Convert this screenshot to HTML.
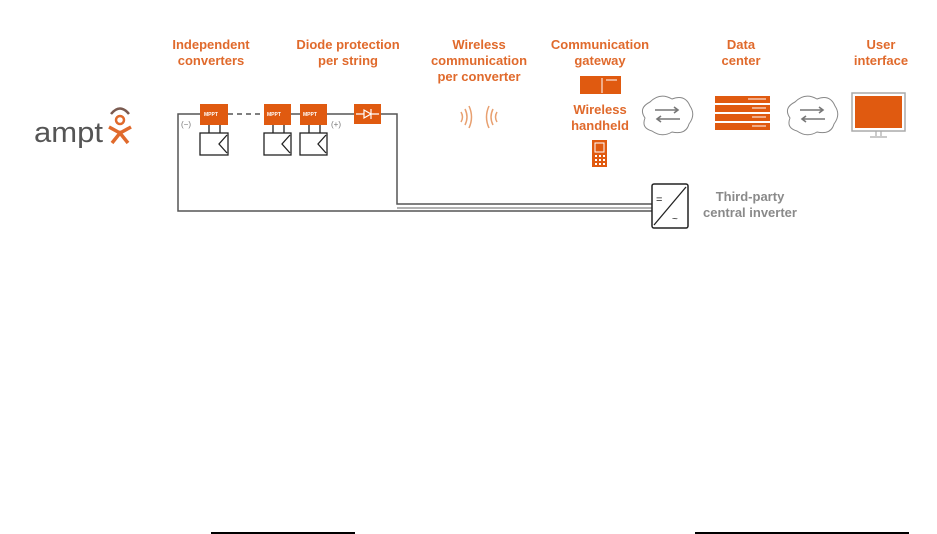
<!DOCTYPE html>
<html><head><style>
html,body{margin:0;padding:0;background:#fff;}
svg{display:block}
.h{font-family:"Liberation Sans",sans-serif;font-weight:bold;font-size:13px;fill:#e06a2c;text-anchor:middle}
.g{font-family:"Liberation Sans",sans-serif;font-weight:bold;font-size:13px;fill:#8a8a8a;text-anchor:middle}
</style></head><body>
<svg width="937" height="534" viewBox="0 0 937 534" xmlns="http://www.w3.org/2000/svg">
<text class="h" x="211" y="49">Independent</text><text class="h" x="211" y="65">converters</text>
<text class="h" x="348" y="49">Diode protection</text><text class="h" x="348" y="65">per string</text>
<text class="h" x="479" y="49">Wireless</text><text class="h" x="479" y="65">communication</text><text class="h" x="479" y="81">per converter</text>
<text class="h" x="600" y="49">Communication</text><text class="h" x="600" y="65">gateway</text>
<text class="h" x="741" y="49">Data</text><text class="h" x="741" y="65">center</text>
<text class="h" x="881" y="49">User</text><text class="h" x="881" y="65">interface</text>
<text class="h" x="600" y="114">Wireless</text><text class="h" x="600" y="130">handheld</text>
<!-- logo -->
<text x="34" y="142" font-family="Liberation Sans,sans-serif" font-size="29" fill="#555" textLength="69" lengthAdjust="spacingAndGlyphs">ampt</text>
<path d="M111 114 Q120 103 129 114" stroke="#7a5a50" stroke-width="2.5" fill="none"/>
<circle cx="120" cy="120" r="4" fill="none" stroke="#e06a2c" stroke-width="2.5"/>
<path d="M109 127 L120 133 L131 127 M112 143 L120 133 L128 143" stroke="#e06a2c" stroke-width="3.5" fill="none"/>
<!-- circuit -->
<g stroke="#555" stroke-width="1.5" fill="none">
<path d="M200 114 H178 V211 H652"/>
<path d="M228 114 H264" stroke-dasharray="5,4"/>
<path d="M291 114 H300 M327 114 H354 M381 114 H397 V204 H652"/>
<path d="M397 208 H652" stroke="#999"/>
</g>
<g fill="#e05a10">
<rect x="200" y="104" width="28" height="21"/><rect x="264" y="104" width="27" height="21"/><rect x="300" y="104" width="27" height="21"/>
<rect x="354" y="104" width="27" height="20"/>
</g>
<g font-family="Liberation Sans,sans-serif" font-size="5" fill="#fff" font-weight="bold">
<text x="204" y="116">MPPT</text><text x="267" y="116">MPPT</text><text x="303" y="116">MPPT</text></g>
<path d="M356 114 H364 M364 110 L371 114 L364 118 Z M371 109 V119 M371 114 H379" stroke="#fff" stroke-width="1.2" fill="none"/>
<g stroke="#222" stroke-width="1.3" fill="none">
<path d="M209 125 V133 M220 125 V133"/><rect x="200" y="133" width="28" height="22"/><path d="M227 135 L219 144 L227 153"/>
<path d="M273 125 V133 M284 125 V133"/><rect x="264" y="133" width="27" height="22"/><path d="M290 135 L282 144 L290 153"/>
<path d="M309 125 V133 M320 125 V133"/><rect x="300" y="133" width="27" height="22"/><path d="M326 135 L318 144 L326 153"/>
</g>
<text x="181" y="127" font-family="Liberation Sans,sans-serif" font-size="8" fill="#777">(−)</text>
<text x="331" y="127" font-family="Liberation Sans,sans-serif" font-size="8" fill="#777">(+)</text>
<!-- inverter -->
<rect x="652" y="184" width="36" height="44" rx="2" fill="#fff" stroke="#222" stroke-width="1.5"/>
<path d="M654 225 L686 187" stroke="#222" stroke-width="1.3"/>
<text x="656" y="203" font-family="Liberation Sans,sans-serif" font-size="11" fill="#222">=</text>
<text x="672" y="222" font-family="Liberation Sans,sans-serif" font-size="10" fill="#222">~</text>
<text class="g" x="750" y="201">Third-party</text><text class="g" x="750" y="217">central inverter</text>
<!-- waves -->
<g stroke="#e8a070" stroke-width="1.5" fill="none">
<path d="M461 112 Q464 117 461 122"/><path d="M465 109 Q469 117 465 125"/><path d="M469 106 Q474 117 469 128"/>
<path d="M497 112 Q494 117 497 122"/><path d="M493 109 Q489 117 493 125"/><path d="M489 106 Q484 117 489 128"/>
</g>
<!-- gateway -->
<rect x="580" y="76" width="41" height="18" fill="#e05a10"/>
<path d="M602 78 V93 M606 80 H617" stroke="#fff" stroke-width="1"/>
<!-- handheld -->
<rect x="592" y="140" width="15" height="27" fill="#e05a10"/>
<rect x="595" y="143" width="9" height="9" fill="none" stroke="#fff" stroke-width="1"/>
<g fill="#fff"><rect x="595" y="155" width="2" height="2"/><rect x="599" y="155" width="2" height="2"/><rect x="603" y="155" width="2" height="2"/>
<rect x="595" y="159" width="2" height="2"/><rect x="599" y="159" width="2" height="2"/><rect x="603" y="159" width="2" height="2"/>
<rect x="595" y="163" width="2" height="2"/><rect x="599" y="163" width="2" height="2"/><rect x="603" y="163" width="2" height="2"/></g>
<!-- clouds -->
<g stroke="#888" stroke-width="1" fill="#fff">
<path d="M650 102 Q660 92 672 99 Q685 94 690 106 Q696 115 689 124 Q686 135 672 132 Q662 138 652 131 Q641 128 645 118 Q638 108 650 102 Z"/>
<path d="M795 102 Q805 92 817 99 Q830 94 835 106 Q841 115 834 124 Q831 135 817 132 Q807 138 797 131 Q786 128 790 118 Q783 108 795 102 Z"/>
</g>
<g stroke="#777" stroke-width="1.6" fill="none">
<path d="M655 110 H678 M674 107 L678 110 L674 113 M680 119 H657 M661 116 L657 119 L661 122"/>
<path d="M800 110 H823 M819 107 L823 110 L819 113 M825 119 H802 M806 116 L802 119 L806 122"/>
</g>
<!-- data center -->
<g fill="#e05a10"><rect x="715" y="96" width="55" height="7"/><rect x="715" y="105" width="55" height="7"/><rect x="715" y="114" width="55" height="7"/><rect x="715" y="123" width="55" height="7"/></g>
<path d="M748 99 H766 M752 108 H766 M752 117 H766 M752 126 H766" stroke="#fff" stroke-width="1"/>
<!-- monitor -->
<rect x="852" y="93" width="53" height="38" fill="#fff" stroke="#aaa" stroke-width="1.5"/>
<rect x="855" y="96" width="47" height="32" fill="#e05a10"/>
<path d="M876 131 V136 M870 137 H887 M881 131 V136" stroke="#aaa" stroke-width="1.2"/>
<!-- bottom lines -->
<rect x="211" y="532" width="144" height="2" fill="#000"/>
<rect x="695" y="532" width="214" height="2" fill="#000"/>
</svg>
</body></html>
